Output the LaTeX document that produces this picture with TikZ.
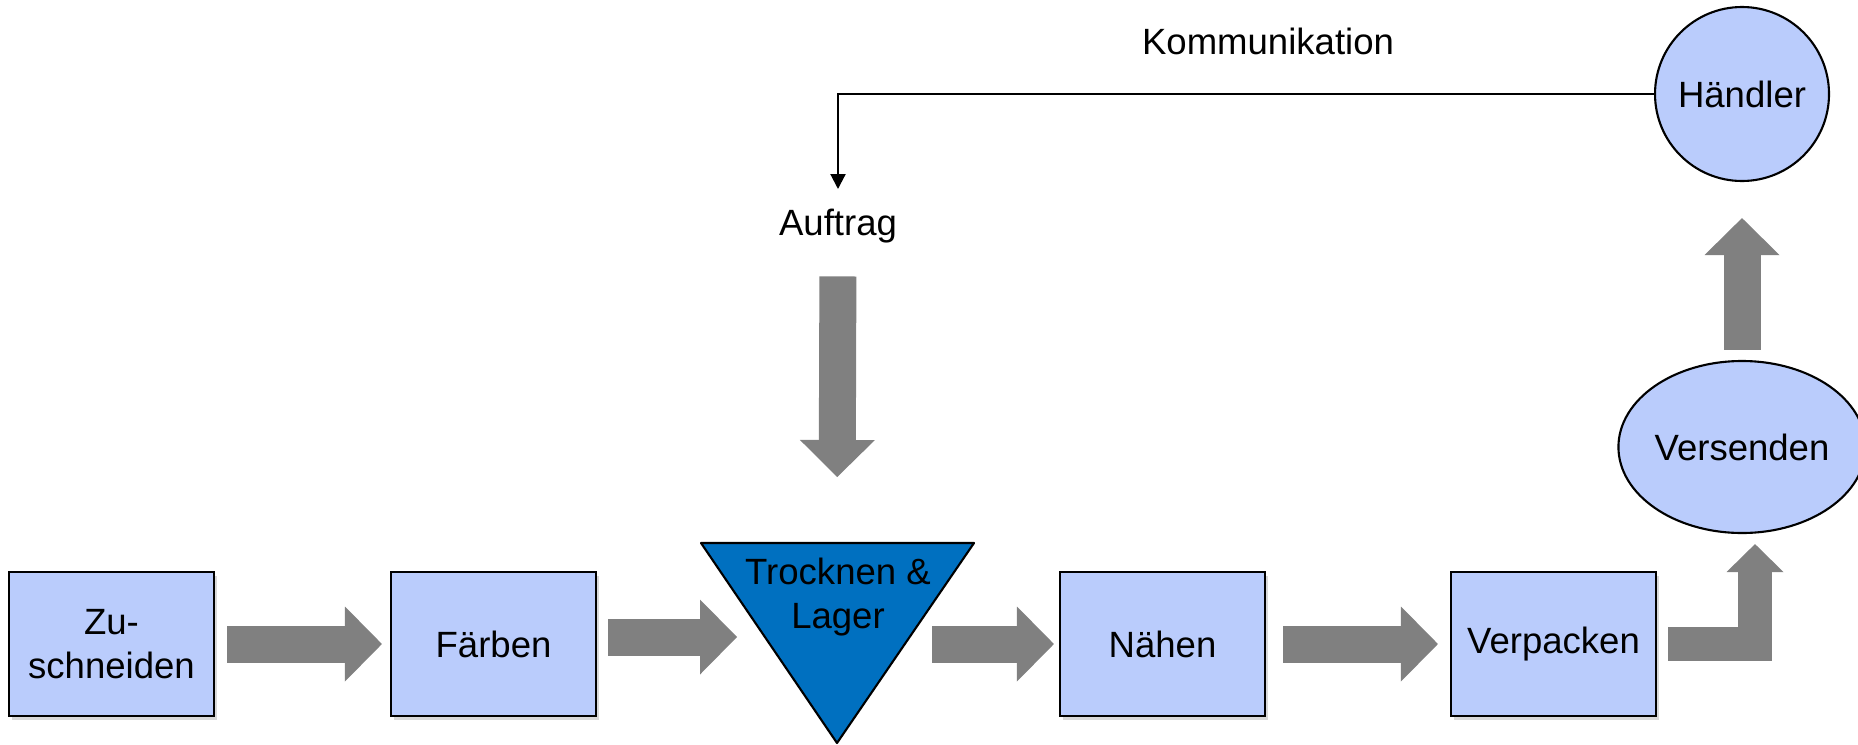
\documentclass[tikz,border=0pt]{standalone}
\usepackage{fontspec}
\setmainfont{Liberation Sans}
\usetikzlibrary{arrows.meta,shapes.geometric,shadows}
\definecolor{boxblue}{HTML}{BACCFC}
\definecolor{lagerblue}{HTML}{0070C0}
\definecolor{flowgray}{HTML}{808080}

\begin{document}
\begin{tikzpicture}[x=0.1mm,y=-0.1mm,
  font=\fontsize{10.4pt}{12.6pt}\selectfont,
  stepbox/.style={draw,line width=0.6pt,fill=boxblue,minimum width=20.5mm,minimum height=14.4mm,
    align=center,inner sep=0pt,drop shadow={shadow xshift=0.3mm,shadow yshift=-0.4mm,opacity=0.3}},
  roundnode/.style={draw,line width=0.6pt,fill=boxblue,inner sep=0pt},
  blockarrow/.style={draw=flowgray,line width=3.7mm,-{Triangle[length=3.7mm,width=7.5mm,line width=0pt]}}]
  \useasboundingbox (0,0) rectangle (1858,744);

  % Fertigung
  \node[stepbox] (zu) at (111.5,644) {Zu-\\schneiden};
  \node[stepbox] (farb) at (493.5,644) {Färben};
  \node[stepbox] (naeh) at (1162.5,644) {Nähen};
  \node[stepbox] (verp) at (1553.5,644) {Verpacken};

  % Trocknen und Lager
  \coordinate (lagerL) at (701,543);
  \coordinate (lagerR) at (974,543);
  \coordinate (lagerB) at (837,743);
  \coordinate (lagertop) at (837,543);
  \coordinate (lagerin) at (737,637);
  \coordinate (lagerout) at (932,644);
  \draw[line width=0.6pt,fill=lagerblue,line join=round] (lagerL) -- (lagerR) -- (lagerB) -- cycle;
  \node[align=center,inner sep=0pt] (trock) at (838,597) {Trocknen \&\\Lager};

  % Versand
  \node[roundnode,ellipse,minimum width=22.8mm,minimum height=17.2mm] (vers) at (1742,447) {Versenden};
  \node[roundnode,circle,minimum size=17.4mm] (haendler) at (1742,94) {Händler};

  % Auftrag
  \node[inner sep=0pt,anchor=north] (auftrag) at (838,208) {Auftrag};
  \node (komm) at (1268,41) {Kommunikation};

  % Pfeile
  \draw[blockarrow,shorten <=1.2mm,shorten >=0.8mm] (zu) -- (farb);
  \draw[blockarrow,shorten <=1.1mm] (farb.east |- lagerin) -- (lagerin);
  \draw[blockarrow,shorten >=0.5mm] (lagerout) -- (naeh);
  \draw[blockarrow,shorten <=1.7mm,shorten >=1.2mm] (naeh) -- (verp);
  \draw[blockarrow,-{Triangle[length=2.8mm,width=5.7mm,line width=0pt]},line width=3.4mm,line join=miter,
    shorten <=1.1mm,shorten >=1mm] (verp.east) -| ([xshift=1.3mm]vers.south);
  \draw[blockarrow,shorten <=1mm,shorten >=3.6mm] (vers) -- (haendler);
  \draw[blockarrow,shorten <=3.3mm,shorten >=6.6mm] (auftrag.south) -- (lagertop);
  \draw[line width=0.6pt,-{Triangle[length=1.5mm,width=1.5mm]},shorten >=1.9mm] (haendler.west) -| (auftrag.north);
\end{tikzpicture}
\end{document}
